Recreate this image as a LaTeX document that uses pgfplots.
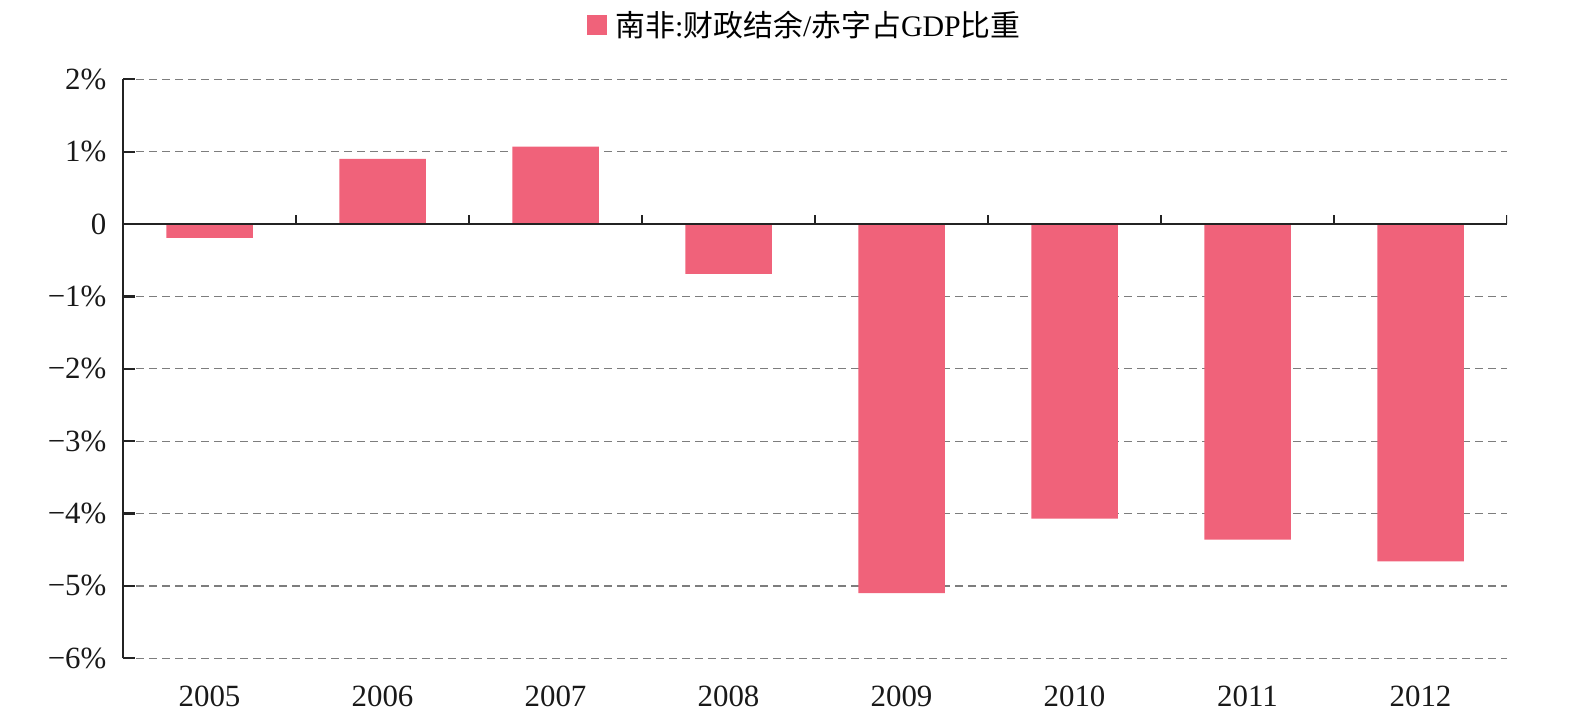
\documentclass[border=0pt]{standalone}
\usepackage{pgfplots}
\pgfplotsset{compat=1.18}
\usepackage{fontspec}
\setmainfont{Liberation Serif}
\newfontfamily\cjk{Noto Sans CJK SC}

\definecolor{barpink}{RGB}{240,98,122}
\definecolor{gridgray}{RGB}{125,125,125}
\definecolor{axisdark}{RGB}{35,35,35}

% fiscal balance as a share of GDP, percent
\pgfplotstableread{
idx year value
0 2005 -0.19
1 2006 0.90
2 2007 1.07
3 2008 -0.69
4 2009 -5.10
5 2010 -4.07
6 2011 -4.36
7 2012 -4.66
}\balance

\begin{document}
\begin{tikzpicture}
\begin{axis}[
  at={(0,0)}, anchor=south west,
  scale only axis, width=692bp, height=289.5bp,
  xmin=-0.5, xmax=7.5, ymin=-6, ymax=2,
  axis x line=bottom, axis y line=left,
  axis line style={-},
  x axis line style={draw=none},
  y axis line style={axisdark, line width=1.1bp},
  xtick={0,...,7},
  xticklabels={2005,2006,2007,2008,2009,2010,2011,2012},
  xtick style={draw=none},
  ytick={-6,-5,-4,-3,-2,-1,0,1,2},
  yticklabels={−6\%,−5\%,−4\%,−3\%,−2\%,−1\%,0,1\%,2\%},
  ytick align=inside,
  major tick length=6bp,
  ytick style={axisdark, line width=1.1bp},
  ymajorgrids,
  grid style={gridgray, line width=0.6bp, dash pattern=on 4bp off 2.5bp},
  tick label style={font=\fontsize{15.5}{18}\selectfont, text=black!90},
  xticklabel style={anchor=center, yshift=-15.8bp},
  yticklabel style={anchor=east, xshift=-4.8bp},
  legend style={at={(0.4935,1)}, anchor=center, yshift=27bp,
    draw=none, fill=none, font=\fontsize{15}{18}\selectfont,
    legend columns=1},
  legend image code/.code={\fill[barpink] (0bp,-5bp) rectangle (10bp,5bp);},
]
\addplot[ybar, bar width=0.5, bar shift=0, fill=barpink, draw=none]
  table[x=idx, y=value] {\balance};
\addlegendentry{\hspace{2bp}{\cjk 南非}:{\cjk 财政结余}/{\cjk 赤字占}GDP{\cjk 比重}}
% zero line with category separators
\draw[axisdark, line width=1.1bp] (axis cs:-0.5,0) -- (axis cs:7.5,0);
\pgfplotsinvokeforeach{0.5,1.5,2.5,3.5,4.5,5.5,6.5,7.5}{
  \draw[axisdark, line width=1.1bp] (axis cs:#1,0) -- ++(0pt,4.5bp);
}
\end{axis}
\pgfresetboundingbox
\path[use as bounding box] (-61.5bp,-31.85bp) rectangle (731.5bp,329.15bp);
\end{tikzpicture}
\end{document}
